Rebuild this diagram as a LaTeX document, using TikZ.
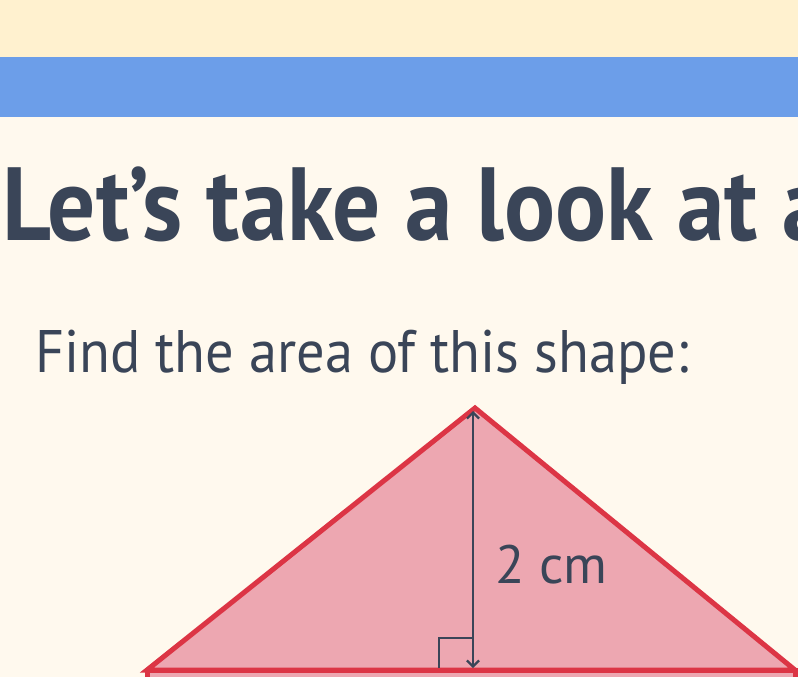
\documentclass[tikz,border=0pt]{standalone}
\usepackage{fontspec}
\setmainfont{PT Sans}
\usetikzlibrary{positioning,arrows.meta}
\definecolor{cream}{HTML}{FFF9EE}
\definecolor{bandtop}{HTML}{FFF1CF}
\definecolor{bandblue}{HTML}{6C9EE9}
\definecolor{ink}{HTML}{3A4558}
\definecolor{shapefill}{HTML}{EDA7B1}
\definecolor{shapeline}{HTML}{DC3545}
\begin{document}
\begin{tikzpicture}[x=1pt,y=-1pt,
    shapeedge/.style={draw=shapeline,fill=shapefill,line width=5pt,line join=miter},
    measure/.style={draw=ink,line width=2.2pt},
    txt/.style={anchor=base west,inner sep=0pt,text=ink}]
    \useasboundingbox (0,0) rectangle (798,677);
    \clip (0,0) rectangle (798,677);
    % background and bands
    \fill[cream] (0,0) rectangle (798,677);
    \fill[bandtop] (0,0) rectangle (798,57);
    \fill[bandblue] (0,57) rectangle (798,117);
    % texts
    \node[txt] (title) at (2,240) {\scalebox{0.915}[1]{\fontsize{104}{110}\selectfont\bfseries Let’s take a look at a}};
    \node[txt] (task) at (35,372) {\scalebox{0.94}[1]{\fontsize{60}{66}\selectfont Find the area of this shape:}};
    % the shape
    \draw[shapeedge] (147,670) rectangle (795,720);
    \coordinate (apex) at (475,408);
    \coordinate (bl) at (147,670);
    \coordinate (br) at (795,670);
    \draw[shapeedge] (bl) -- (apex) -- (br) -- cycle;
    % height
    \coordinate (top) at (473,411);
    \coordinate (foot) at (473,668);
    \draw[measure,{Straight Barb[length=6pt,width=12pt]}-{Straight Barb[length=6pt,width=12pt]}] (top) -- (foot);
    \draw[measure] (439,668) -- (439,638) -- (473,638);
    \node[txt] (h) at (495,583) {\fontsize{54}{58}\selectfont 2 cm};
\end{tikzpicture}
\end{document}
